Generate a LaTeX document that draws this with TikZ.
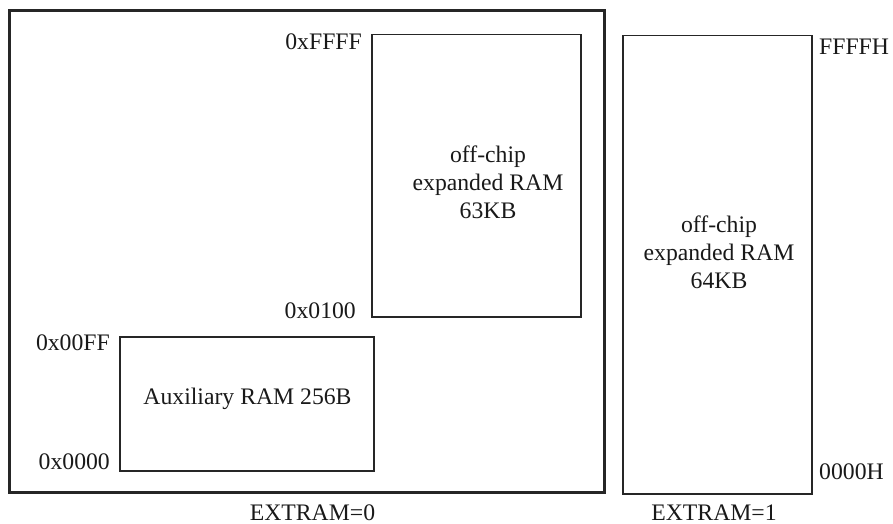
\documentclass[tikz,border=0pt]{standalone}
\usepackage{fontspec}
\setmainfont{Liberation Serif}
\begin{document}
\begin{tikzpicture}[x=1pt,y=-1pt,
  lbl/.style={inner sep=0pt,font=\fontsize{23.7}{27}\selectfont,text=black!90},
  outerbox/.style={draw=black!85,line width=2.6pt,inner sep=0pt,anchor=north west},
  membox/.style={draw=black!85,line width=1.5pt,inner sep=0pt,anchor=north west}]
\useasboundingbox (0,0) rectangle (893,524);
% boxes
\node[outerbox,minimum width=595pt,minimum height=482pt] (outer) at (8,9) {};
\node[membox,minimum width=209pt,minimum height=282pt] (ext63) at (371,34) {};
\node[membox,minimum width=254pt,minimum height=134pt] (aux) at (119,336) {};
\node[membox,minimum width=189pt,minimum height=458pt] (ext64) at (622,35) {};
% address labels
\node[lbl,anchor=base east] (aFFFF) at (362,50) {0xFFFF};
\node[lbl,anchor=base east] (a0100) at (356,318) {0x0100};
\node[lbl,anchor=base east] (a00FF) at (110,350) {0x00FF};
\node[lbl,anchor=base east] (a0000) at (110,469) {0x0000};
\node[lbl,anchor=base west] (hFFFF) at (819,55) {FFFFH};
\node[lbl,anchor=base west] (h0000) at (819,479) {0000H};
% texts in boxes
\node[lbl,anchor=base] (t63a) at (488,162) {off-chip};
\node[lbl,anchor=base] (t63b) at (488,190) {expanded RAM};
\node[lbl,anchor=base] (t63c) at (488,218) {63KB};
\node[lbl,anchor=base] (t64a) at (719,232) {off-chip};
\node[lbl,anchor=base] (t64b) at (719,260) {expanded RAM};
\node[lbl,anchor=base] (t64c) at (719,288) {64KB};
\node[lbl,anchor=base] (tAux) at (247.5,404) {Auxiliary RAM 256B};
% captions
\node[lbl,anchor=base] (cap0) at (312.5,520) {EXTRAM=0};
\node[lbl,anchor=base] (cap1) at (714,520) {EXTRAM=1};
\end{tikzpicture}
\end{document}
